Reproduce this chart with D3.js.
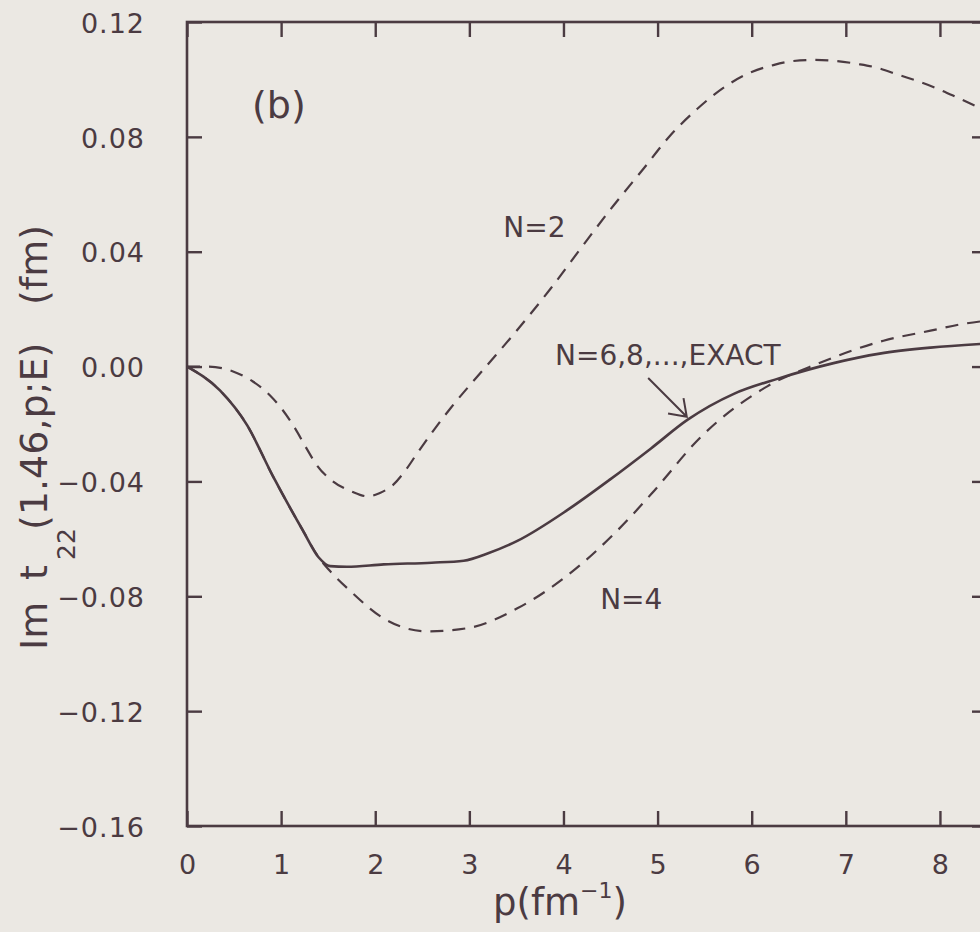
<!DOCTYPE html>
<html><head><meta charset="utf-8">
<script src="https://cdn.jsdelivr.net/npm/d3@7"></script>
<style>html,body{margin:0;padding:0;background:#ebe8e3;overflow:hidden}</style>
</head><body><svg id="chart" width="980" height="932"></svg>
<script>
// ---------- data ----------
const xTicks = [0, 1, 2, 3, 4, 5, 6, 7, 8];
const yTicks = [0.12, 0.08, 0.04, 0.00, -0.04, -0.08, -0.12, -0.16];

// N=6,8,...,EXACT (solid)
const exactP = [0, 0.35, 0.64, 0.91, 1.23, 1.40, 1.52, 1.70, 2.09, 2.60, 2.94, 3.20, 3.51, 4.04, 4.50, 4.93, 5.32, 5.81, 6.28, 6.87, 7.36, 7.90, 8.5];
const exactV = [0, -0.0083, -0.0205, -0.038, -0.057, -0.0665, -0.0695, -0.0697, -0.0689, -0.0683, -0.0676, -0.0650, -0.0607, -0.0500, -0.0392, -0.0285, -0.0185, -0.0095, -0.0042, 0.0012, 0.0045, 0.0066, 0.0080];

// N=4 (dashed, lower)
const n4P = [0, 0.35, 0.64, 0.91, 1.23, 1.40, 1.52, 1.73, 2.09, 2.55, 2.98, 3.51, 4.04, 4.57, 4.93, 5.46, 6.17, 6.70, 7.40, 7.90, 8.27, 8.5];
const n4V = [0, -0.0083, -0.0205, -0.038, -0.057, -0.0665, -0.0712, -0.078, -0.0877, -0.0922, -0.0911, -0.0842, -0.0728, -0.0572, -0.0445, -0.0245, -0.0068, 0.0010, 0.0090, 0.0125, 0.0150, 0.0160];

// N=2 (dashed, upper)
const n2P = [0, 0.21, 0.49, 0.70, 0.88, 1.02, 1.15, 1.27, 1.38, 1.54, 1.75, 1.92, 2.05, 2.19, 2.32, 2.45, 2.80, 3.15, 3.49, 3.86, 4.18, 4.53, 4.85, 5.13, 5.42, 5.74, 6.00, 6.23, 6.44, 6.67, 6.91, 7.12, 7.34, 7.56, 7.79, 7.98, 8.19, 8.40, 8.5];
const n2V = [0, 0, -0.0017, -0.0052, -0.010, -0.0153, -0.0216, -0.0285, -0.0344, -0.0397, -0.0435, -0.0452, -0.0440, -0.0412, -0.0362, -0.0300, -0.0145, -0.001, 0.012, 0.027, 0.041, 0.056, 0.0689, 0.0803, 0.0897, 0.0980, 0.1026, 0.1050, 0.1064, 0.1068, 0.1064, 0.1054, 0.1040, 0.1016, 0.0991, 0.0967, 0.0936, 0.0904, 0.0888];

const curveLabels = ["(b)", "N=2", "N=6,8,...,EXACT", "N=4"];

// ---------- layout ----------
const ink = "#4b3b42";
const font = "'DejaVu Sans', sans-serif";
const svg = d3.select("#chart");
svg.append("rect").attr("width", 980).attr("height", 932).attr("fill", "#ebe8e3");

const mLeft = 187, mRight = 987, mTop = 22, mBottom = 826;
const x = d3.scaleLinear().domain([0, 8.5]).range([mLeft, mRight]);
const y = d3.scaleLinear().domain([-0.16, 0.12]).range([mBottom, mTop]);

// frame
svg.append("rect").attr("x", mLeft).attr("y", mTop)
  .attr("width", mRight - mLeft).attr("height", mBottom - mTop)
  .attr("fill", "none").attr("stroke", ink).attr("stroke-width", 2.6);

const fmtY = d3.format(".2f");
function styleAxis(g) {
  g.select(".domain").remove();
  g.selectAll(".tick line").attr("stroke", ink).attr("stroke-width", 2.4);
  g.selectAll("text").attr("fill", ink).attr("font-family", font);
}

// left axis
svg.append("g").attr("transform", `translate(${mLeft},0)`)
  .call(d3.axisLeft(y).tickValues(yTicks).tickFormat(fmtY).tickSize(-15).tickPadding(42))
  .call(styleAxis)
  .call(g => g.selectAll("text").attr("font-size", 27).attr("letter-spacing", 1).attr("dy", "0.38em"));
// right axis
svg.append("g").attr("transform", `translate(${mRight},0)`)
  .call(d3.axisRight(y).tickValues(yTicks).tickFormat("").tickSize(-15))
  .call(styleAxis);
// bottom axis
svg.append("g").attr("transform", `translate(0,${mBottom})`)
  .call(d3.axisBottom(x).tickValues(xTicks).tickFormat(d3.format("d")).tickSize(-15).tickPadding(29))
  .call(styleAxis)
  .call(g => g.selectAll("text").attr("font-size", 27));
// top axis
svg.append("g").attr("transform", `translate(0,${mTop})`)
  .call(d3.axisTop(x).tickValues(xTicks).tickFormat("").tickSize(-15))
  .call(styleAxis);

// curves
const line = d3.line().x(d => x(d[0])).y(d => y(d[1])).curve(d3.curveMonotoneX);
const series = [
  {p: n4P, v: n4V, dash: "13,9"},
  {p: n2P, v: n2V, dash: "13,9"},
  {p: exactP, v: exactV, dash: null}
];
series.forEach(s => {
  const pts = s.p.map((p, i) => [p, s.v[i]]);
  const path = svg.append("path").datum(pts).attr("d", line)
    .attr("fill", "none").attr("stroke", ink)
    .attr("stroke-width", s.dash ? 2.2 : 2.6)
    .attr("stroke-linejoin", "round");
  if (s.dash) path.attr("stroke-dasharray", s.dash);
});

// in-plot labels (anchored in data coordinates)
const labelAnchors = [
  {p: 0.69, v: 0.0866, size: 38},
  {p: 3.36, v: 0.0451, size: 28},
  {p: 3.91, v: 0.0006, size: 28},
  {p: 4.39, v: -0.0844, size: 28}
];
labelAnchors.forEach((a, i) => {
  svg.append("text").attr("x", x(a.p)).attr("y", y(a.v))
    .attr("font-family", font).attr("font-size", a.size).attr("fill", ink)
    .text(curveLabels[i]);
});

// arrow
const a0 = [x(4.90), y(-0.0040)], a1 = [x(5.31), y(-0.0175)];
const ang = Math.atan2(a0[1] - a1[1], a0[0] - a1[0]);
const hl = 19, ha = 35 * Math.PI / 180;
const arrow = d3.path();
arrow.moveTo(a0[0], a0[1]); arrow.lineTo(a1[0], a1[1]);
arrow.moveTo(a1[0] + hl * Math.cos(ang + ha), a1[1] + hl * Math.sin(ang + ha));
arrow.lineTo(a1[0], a1[1]);
arrow.lineTo(a1[0] + hl * Math.cos(ang - ha), a1[1] + hl * Math.sin(ang - ha));
svg.append("path").attr("d", arrow.toString()).attr("fill", "none")
  .attr("stroke", ink).attr("stroke-width", 2);

// x axis title
const xt = svg.append("text").attr("x", 493).attr("y", 915)
  .attr("font-family", font).attr("font-size", 37).attr("fill", ink);
xt.append("tspan").text("p(fm");
xt.append("tspan").attr("dy", -17).attr("font-size", 22).text("−1");
xt.append("tspan").attr("dy", 17).text(")");

// y axis title
const yt = svg.append("text").attr("transform", "translate(47,650) rotate(-90)")
  .attr("font-family", font).attr("font-size", 38).attr("fill", ink);
yt.append("tspan").attr("x", 0).attr("y", 0).text("Im");
yt.append("tspan").attr("x", 70).attr("y", 0).text("t");
yt.append("tspan").attr("x", 90).attr("y", 28).attr("font-size", 25).text("22");
yt.append("tspan").attr("x", 120).attr("y", 0).text("(1.46,p;E)");
yt.append("tspan").attr("x", 345).attr("y", 0).text("(fm)");
</script>
</body></html>
